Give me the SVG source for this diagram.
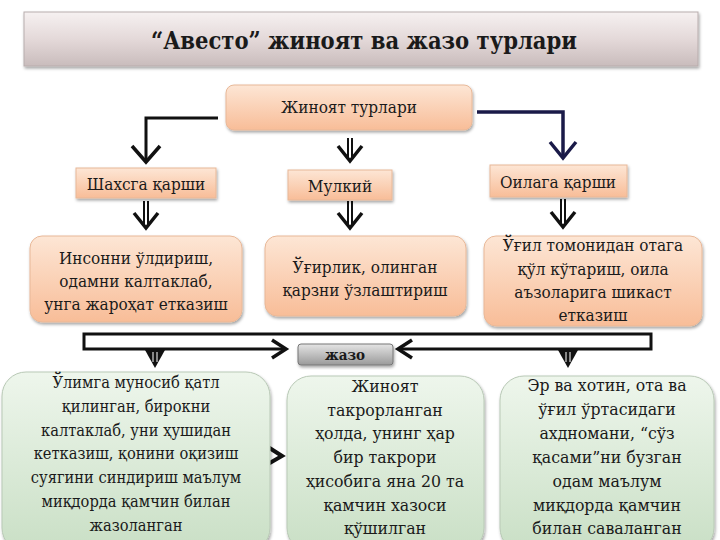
<svg xmlns="http://www.w3.org/2000/svg" width="720" height="540" viewBox="0 0 720 540">
<defs>
<linearGradient id="gTitle" x1="0" y1="0" x2="0" y2="1">
<stop offset="0" stop-color="#f6f1f1"/><stop offset="0.5" stop-color="#e4d9d9"/><stop offset="1" stop-color="#c9bcbc"/>
</linearGradient>
<linearGradient id="gPeach" x1="0" y1="0" x2="0" y2="1">
<stop offset="0" stop-color="#fde6d5"/><stop offset="1" stop-color="#f8bd98"/>
</linearGradient>
<linearGradient id="gGreen" x1="0" y1="0" x2="0" y2="1">
<stop offset="0" stop-color="#eef6ec"/><stop offset="1" stop-color="#c9dfc5"/>
</linearGradient>
<linearGradient id="gGrey" x1="0" y1="0" x2="0" y2="1">
<stop offset="0" stop-color="#e4e4e4"/><stop offset="1" stop-color="#9a9a9a"/>
</linearGradient>
<filter id="sh" x="-10%" y="-10%" width="120%" height="130%">
<feDropShadow dx="1" dy="2" stdDeviation="1.5" flood-color="#000" flood-opacity="0.35"/>
</filter>
</defs>
<style>
text{fill:#1a1a1a;text-anchor:middle}
.t{font-size:17px}
.b{font-size:17.5px}
.s{font-size:16.3px}
.ln{fill:none;stroke:#111;stroke-width:3}
.peach{fill:url(#gPeach);stroke:#e8b898;stroke-width:1}
.green{fill:url(#gGreen);stroke:#b9c9b6;stroke-width:1}
</style>
<rect width="720" height="540" fill="#fff"/>
<g font-family="DejaVu Serif Condensed, DejaVu Serif, serif">
<g id="title">
<rect x="24" y="12" width="674" height="54" fill="url(#gTitle)" stroke="#b8adad" filter="url(#sh)"/>
<text x="364" y="49" font-size="23.5" font-weight="bold">“Авесто” жиноят ва жазо турлари</text>
</g>

<g id="connectors">
<path class="ln" d="M218,118 H146 V160"/>
<path d="M132,146 L146,162 L160,146" fill="none" stroke="#111" stroke-width="3.5"/>
<path d="M477,112 H563 V157" fill="none" stroke="#1a1a48" stroke-width="3.5"/>
<path d="M550,142 L563,158 L576,142" fill="none" stroke="#1a1a48" stroke-width="3.5"/>
<path d="M348,138 V158 M352,138 V158" stroke="#111" stroke-width="2"/>
<path d="M338,146 L350,161 L362,146" fill="none" stroke="#111" stroke-width="3.5"/>

<path d="M144,201 V225 M148,201 V225" stroke="#111" stroke-width="2"/>
<path d="M134,213 L146,228 L158,213" fill="none" stroke="#111" stroke-width="3.5"/>
<path d="M348,201 V225 M352,201 V225" stroke="#111" stroke-width="2"/>
<path d="M338,213 L350,228 L362,213" fill="none" stroke="#111" stroke-width="3.5"/>
<path d="M561,199 V225 M565,199 V225" stroke="#111" stroke-width="2"/>
<path d="M551,212 L563,227 L575,212" fill="none" stroke="#111" stroke-width="3.5"/>

<path d="M286,349 H84 V334 H651 V349 H398" fill="#fff" stroke="#111" stroke-width="3"/>
<path d="M272,340 L286,349 L272,358" fill="none" stroke="#111" stroke-width="3.5"/>
<path d="M412,340 L398,349 L412,358" fill="none" stroke="#111" stroke-width="3.5"/>
<polygon points="145,350 165,350 155,368" fill="#111"/>
<path d="M153,352 V362 M157,352 V362" stroke="#fff" stroke-width="1"/>
<polygon points="558,350 578,350 568,368" fill="#111"/>
<path d="M566,352 V362 M570,352 V362" stroke="#fff" stroke-width="1"/>

<path d="M268,447 L282,456 L268,464" fill="none" stroke="#111" stroke-width="4"/>
</g>

<g id="n-root">
<rect x="226" y="85" width="246" height="45" rx="8" class="peach" filter="url(#sh)"/>
<text x="349" y="113" class="t">Жиноят турлари</text>
</g>

<g id="n-shaxs">
<rect x="76" y="168" width="140" height="30" class="peach" filter="url(#sh)"/>
<text x="146" y="190" class="t">Шахсга қарши</text>
</g>
<g id="n-mulk">
<rect x="288" y="170" width="104" height="30" class="peach" filter="url(#sh)"/>
<text x="340" y="192" class="t">Мулкий</text>
</g>
<g id="n-oila">
<rect x="490" y="165" width="137" height="32" class="peach" filter="url(#sh)"/>
<text x="558" y="188" class="t">Оилага қарши</text>
</g>

<g id="n-c1">
<rect x="30" y="236" width="212" height="86" rx="12" class="peach" filter="url(#sh)"/>
<text x="136" y="264" class="t">Инсонни ўлдириш,</text>
<text x="136" y="287" class="t">одамни калтаклаб,</text>
<text x="136" y="310" class="t">унга жароҳат етказиш</text>
</g>
<g id="n-c2">
<rect x="265" y="236" width="201" height="80" rx="12" class="peach" filter="url(#sh)"/>
<text x="365" y="273" class="t">Ўғирлик, олинган</text>
<text x="365" y="296" class="t">қарзни ўзлаштириш</text>
</g>
<g id="n-c3">
<rect x="484" y="236" width="218" height="90" rx="12" class="peach" filter="url(#sh)"/>
<text x="593" y="251" class="t">Ўғил томонидан отага</text>
<text x="593" y="275" class="t">қўл кўтариш, оила</text>
<text x="593" y="298" class="t">аъзоларига шикаст</text>
<text x="593" y="321" class="t">етказиш</text>
</g>

<g id="n-jazo">
<rect x="298" y="344" width="95" height="21" rx="3" fill="url(#gGrey)" stroke="#777" filter="url(#sh)"/>
<text x="345" y="360" font-size="15" font-weight="bold">жазо</text>
</g>

<g id="n-p1">
<rect x="2" y="372" width="268" height="180" rx="24" class="green" filter="url(#sh)"/>
<text x="136" y="388" class="s">Ўлимга муносиб қатл</text>
<text x="136" y="412" class="s">қилинган, бирокни</text>
<text x="136" y="436" class="s">калтаклаб, уни ҳушидан</text>
<text x="136" y="459" class="s">кетказиш, қонини оқизиш</text>
<text x="136" y="483" class="s">суягини синдириш маълум</text>
<text x="136" y="507" class="s">миқдорда қамчин билан</text>
<text x="136" y="531" class="s">жазоланган</text>
</g>
<g id="n-p2">
<rect x="287" y="376" width="197" height="176" rx="24" class="green" filter="url(#sh)"/>
<text x="385" y="392" class="b">Жиноят</text>
<text x="385" y="416" class="b">такрорланган</text>
<text x="385" y="439" class="b">ҳолда, унинг ҳар</text>
<text x="385" y="463" class="b">бир такрори</text>
<text x="385" y="487" class="b">ҳисобига яна 20 та</text>
<text x="385" y="511" class="b">қамчин хазоси</text>
<text x="385" y="534" class="b">қўшилган</text>
</g>
<g id="n-p3">
<rect x="500" y="376" width="214" height="176" rx="24" class="green" filter="url(#sh)"/>
<text x="607" y="391" class="b">Эр ва хотин, ота ва</text>
<text x="607" y="415" class="b">ўғил ўртасидаги</text>
<text x="607" y="439" class="b">ахдномани, “сўз</text>
<text x="607" y="463" class="b">қасами”ни бузган</text>
<text x="607" y="487" class="b">одам маълум</text>
<text x="607" y="511" class="b">миқдорда қамчин</text>
<text x="607" y="534" class="b">билан саваланган</text>
</g>
</g>
</svg>
